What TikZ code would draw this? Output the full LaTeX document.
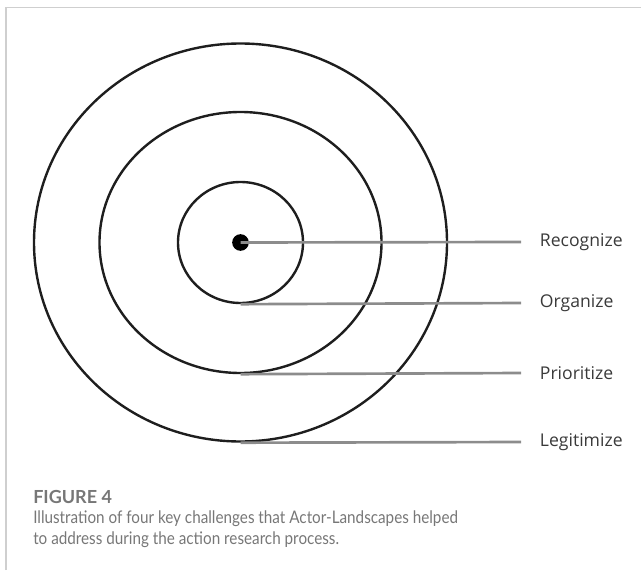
\documentclass[tikz,border=0pt]{standalone}
\usepackage{fontspec}
\setmainfont{Open Sans}
\newfontfamily\capfont[FakeStretch=0.88]{Lato}
\newfontfamily\figfont{Lato}
\usetikzlibrary{shapes.geometric}
\definecolor{ringcol}{HTML}{1E1E1E}
\definecolor{leadcol}{HTML}{8C8C8C}
\definecolor{labcol}{HTML}{3A3A3A}
\definecolor{capcol}{HTML}{777777}
\definecolor{framecol}{HTML}{CFCFCF}

\begin{document}
\begin{tikzpicture}[x=0.75pt,y=-0.75pt]
  \tikzstyle{ring}=[ellipse,draw=ringcol,line width=1.8pt,inner sep=0pt]
  \tikzstyle{lead}=[draw=leadcol,line width=2pt]
  \tikzstyle{challenge}=[anchor=west,inner xsep=14pt,inner ysep=0pt,text=labcol,font=\fontsize{13.2}{15}\selectfont]
  \tikzstyle{caption}=[anchor=base west,inner sep=0pt,text=capcol,align=left,font=\capfont\fontsize{13}{15.5}\selectfont]

  \useasboundingbox (0,0) rectangle (641,570);
  % frame
  \draw[framecol,line width=1.1pt] (6,570) -- (6,7.5) -- (641,7.5);

  \coordinate (c) at (240.5,242.5);
  \node[ring,minimum width=309.75pt,minimum height=298.5pt] (outer) at (c) {};
  \node[ring,minimum width=211.5pt,minimum height=195.75pt] (middle) at (c) {};
  \node[ring,minimum width=93.75pt,minimum height=90.75pt] (inner) at (c) {};
  \node[circle,fill=black,minimum size=12.5pt,inner sep=0pt] (dot) at (c) {};

  \node[challenge] (rec) at (521,242) {Recognize};
  \node[challenge] (org) at (521,303) {Organize};
  \node[challenge] (pri) at (521,373) {Prioritize};
  \node[challenge] (leg) at (521,442) {Legitimize};

  \path[lead] (dot.center) -- (rec.west);
  \path[lead] (inner.south) -- (org.west);
  \path[lead] (middle.south) -- (pri.west);
  \path[lead] (outer.south) -- (leg.west);

  % caption
  \node[caption,font=\figfont\bfseries\fontsize{13.5}{15}\selectfont] (fig) at (33,503) {FIGURE 4};
  \node[caption] (captext) at (33,544) {Illustration of four key challenges that Actor-Landscapes helped\\to address during the action research process.};
\end{tikzpicture}
\end{document}
